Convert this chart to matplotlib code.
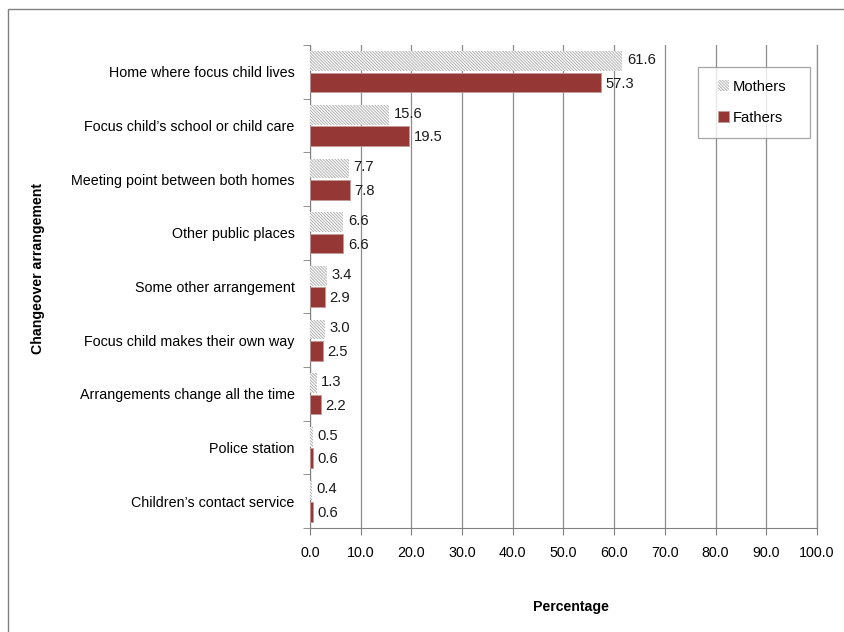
import matplotlib.pyplot as plt, numpy as np
from matplotlib.patches import Rectangle
from matplotlib.container import BarContainer
from matplotlib.legend_handler import HandlerPatch

plt.rcParams['font.family'] = ['Liberation Sans', 'DejaVu Sans']
plt.rcParams['hatch.linewidth'] = 0.6

#data
categories = ["Home where focus child lives", "Focus child\u2019s school or child care",
              "Meeting point between both homes", "Other public places",
              "Some other arrangement", "Focus child makes their own way",
              "Arrangements change all the time", "Police station",
              "Children\u2019s contact service"]
mothers = [61.6, 15.6, 7.7, 6.6, 3.4, 3.0, 1.3, 0.5, 0.4]
fathers = [57.3, 19.5, 7.8, 6.6, 2.9, 2.5, 2.2, 0.6, 0.6]
xticks = np.arange(0, 101, 10)

fig = plt.figure(figsize=(8.45, 6.32), dpi=100)
fig.patches.append(Rectangle((8/845, -0.1), 1, 1 - 9/632 + 0.1, transform=fig.transFigure,
                             fill=False, edgecolor='#808080', linewidth=1))
ax = fig.add_axes([310/845, 1 - 528/632, 507/845, 483/632])

y = np.arange(len(categories))
h = 0.37
mb = ax.barh(y - 0.2, mothers, height=h, color='white', hatch='\\' * 11, edgecolor='#a4a4a4',
             linewidth=0, label='Mothers', zorder=3)
fb = ax.barh(y + 0.2, fathers, height=h, color='#953735', edgecolor='#c49a9a', linewidth=0.6,
             label='Fathers', zorder=3)

for yy, v in zip(y, mothers):
    ax.text(v + 0.9, yy - 0.22, f"{v:.1f}", va='center', ha='left', fontsize=10.6, color='#1a1a1a')
for yy, v in zip(y, fathers):
    ax.text(v + 0.9, yy + 0.22, f"{v:.1f}", va='center', ha='left', fontsize=10.6, color='#1a1a1a')

ax.set_xlim(0, 100)
ax.set_ylim(len(categories) - 0.5, -0.5)
ax.set_xticks(xticks)
ax.set_xticklabels([f"{t:.1f}" for t in xticks], fontsize=10.3)
ax.set_yticks(y)
ax.set_yticklabels(categories, fontsize=10.3)
ax.set_yticks(np.arange(-0.5, len(categories), 1), minor=True)
ax.tick_params(axis='y', which='major', length=0, pad=11)
ax.tick_params(axis='y', which='minor', length=5, color='#808080', direction='out')
ax.tick_params(axis='x', length=5, color='#808080', pad=8)
ax.xaxis.grid(True, color='#8c8c8c', linewidth=0.9, zorder=0)
ax.axvline(100, color='#8c8c8c', linewidth=0.9, zorder=0, clip_on=False)
for s in ['top', 'right']:
    ax.spines[s].set_visible(False)
ax.spines['left'].set_color('#808080')
ax.spines['bottom'].set_color('#808080')

ax.set_xlabel("Percentage", fontsize=10.2, fontweight='bold')
ax.xaxis.set_label_coords((571 - 310) / 507, (528 - 600) / 483)
ax.set_ylabel("Changeover arrangement", fontsize=10.2, fontweight='bold')
ax.yaxis.set_label_coords((45 - 310) / 507, (528 - 268) / 483)


def small_box(legend, orig_handle, xdescent, ydescent, width, height, fontsize):
    s = height * 1.05
    return Rectangle((xdescent + width - s, ydescent), s, s)


def first_child(handle, orig):
    handle.update_from(orig.patches[0])


leg = ax.legend(loc='upper left',
                bbox_to_anchor=(388 / 507, (528 - 67) / 483, 112 / 507, 0.0),
                mode='expand', fontsize=10.6, frameon=True, fancybox=False,
                edgecolor='#909090', handlelength=1.25, handleheight=0.7, handletextpad=0.25,
                labelspacing=1.2, borderpad=0.85, borderaxespad=0,
                handler_map={BarContainer: HandlerPatch(patch_func=small_box,
                                                        update_func=first_child)})
leg.get_frame().set_linewidth(0.9)

fig.savefig("out.png", dpi=100)
